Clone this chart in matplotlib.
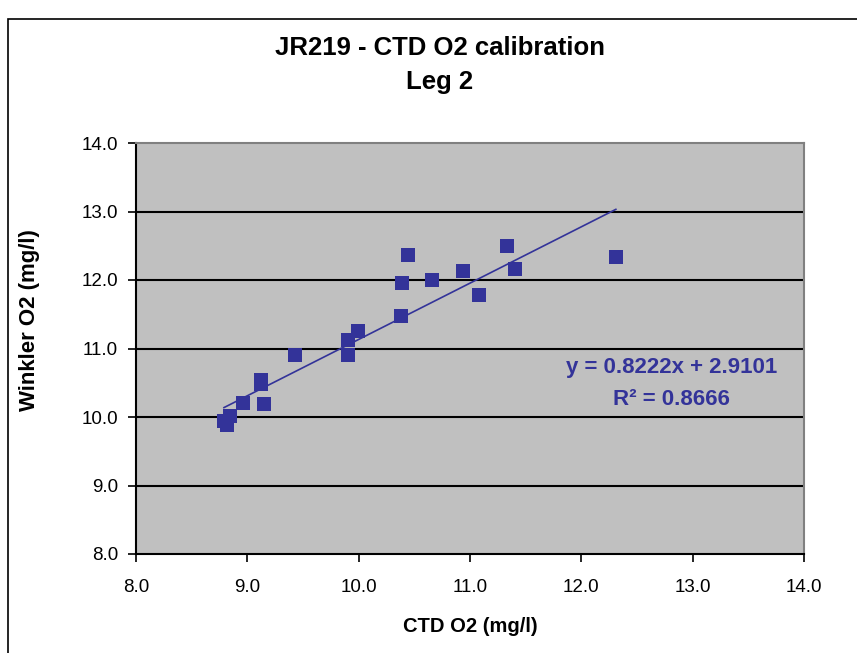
import matplotlib
matplotlib.use("Agg")
import matplotlib.pyplot as plt
from matplotlib.patches import Rectangle

plt.rcParams['font.family'] = ['Liberation Sans', 'DejaVu Sans']

# CTD vs Winkler oxygen samples (mg/l)
ctd_o2 = [10.44, 11.33, 11.40, 10.94, 10.66, 10.39, 11.08, 10.38, 9.99, 9.90,
          9.90, 9.43, 9.12, 9.12, 8.96, 9.15, 8.84, 8.79, 8.82, 12.31]
winkler_o2 = [12.36, 12.49, 12.16, 12.13, 12.00, 11.96, 11.78, 11.47, 11.25, 11.12,
              10.90, 10.90, 10.54, 10.48, 10.21, 10.19, 10.02, 9.94, 9.88, 12.34]

# linear trendline
slope = 0.8222
intercept = 2.9101
r_squared = 0.8666

ticks = [8.0, 9.0, 10.0, 11.0, 12.0, 13.0, 14.0]
blue = "#333399"

fig = plt.figure(figsize=(8.57, 6.53), dpi=100)
fig.set_facecolor("w")
ax = fig.add_axes([136 / 857, 1 - 554 / 653, 668 / 857, 411 / 653])
ax.set_facecolor("#C0C0C0")

# chart border (only left and top edges fall inside the image)
fig.patches.append(Rectangle((8 / 857, -0.1), 1.2, 1 - 19 / 653 + 0.1,
                             transform=fig.transFigure, fill=False,
                             edgecolor="black", linewidth=1.2))

for t in ticks[1:-1]:
    ax.axhline(t, color="black", linewidth=1.5, zorder=1)

ax.scatter(ctd_o2, winkler_o2, marker="s", s=88, color=blue, zorder=3, linewidths=0)

x0, x1 = min(ctd_o2), max(ctd_o2)
ax.plot([x0, x1], [slope * x0 + intercept, slope * x1 + intercept],
        color=blue, linewidth=1.2, zorder=2)

ax.text(12.81, 10.72, f"y = {slope:.4f}x + {intercept:.4f}", color=blue,
        fontsize=16, fontweight="bold", ha="center", va="center")
ax.text(12.81, 10.26, f"R² = {r_squared:.4f}", color=blue,
        fontsize=16, fontweight="bold", ha="center", va="center")

ax.set_xlim(8, 14)
ax.set_ylim(8, 14)
ax.set_xticks(ticks)
ax.set_yticks(ticks)
ax.set_xticklabels([f"{t:.1f}" for t in ticks])
ax.set_yticklabels([f"{t:.1f}" for t in ticks])
ax.tick_params(direction="out", length=6, width=1.2, labelsize=13.5, pad=7)
ax.tick_params(axis="x", pad=12)

for side in ("left", "bottom"):
    ax.spines[side].set_linewidth(1.5)
    ax.spines[side].set_color("black")
for side in ("top", "right"):
    ax.spines[side].set_linewidth(1.5)
    ax.spines[side].set_color("#808080")

ax.set_xlabel("CTD O2 (mg/l)", fontsize=14.5, fontweight="bold")
ax.set_ylabel("Winkler O2 (mg/l)", fontsize=16, fontweight="bold")
ax.xaxis.label.set_va("center")
ax.yaxis.label.set_va("center")
ax.xaxis.set_label_coords(0.5, (554 - 626) / 411)
ax.yaxis.set_label_coords((30 - 136) / 668, (554 - 320) / 411)

fig.text(440 / 857, 1 - 48 / 653, "JR219 - CTD O2 calibration",
         fontsize=18.5, fontweight="bold", ha="center", va="center")
fig.text(440 / 857, 1 - 82 / 653, "Leg 2",
         fontsize=18.5, fontweight="bold", ha="center", va="center")

fig.savefig("out.png", dpi=100)
